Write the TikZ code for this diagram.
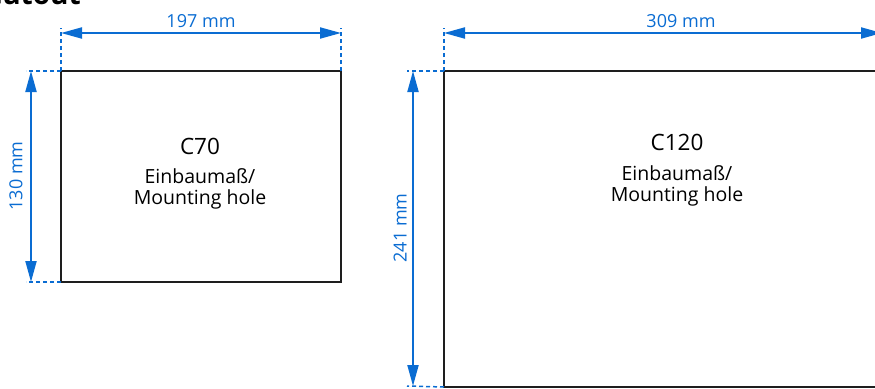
\documentclass[tikz,border=0pt]{standalone}
\usepackage{fontspec}
\setmainfont{Open Sans}
\usetikzlibrary{arrows.meta}
\definecolor{dimblue}{RGB}{10,108,210}
\definecolor{boxline}{RGB}{30,30,30}
\tikzset{
  dimline/.style={dimblue, line width=2pt, {Triangle[length=21pt,width=11pt]}-{Triangle[length=21pt,width=11pt]}, shorten <=0pt, shorten >=0pt},
  extline/.style={dimblue, line width=1.5pt, dash pattern=on 4pt off 3pt},
  cutbox/.style={draw=boxline, line width=2pt},
  dimlabel/.style={text=dimblue, font=\fontsize{18}{21}\selectfont, inner sep=0pt},
  titlelabel/.style={font=\fontsize{22.5}{26}\selectfont, inner sep=0pt, anchor=base},
  textlabel/.style={font=\fontsize{19.5}{22}\selectfont, inner sep=0pt, anchor=base},
  headlabel/.style={font=\bfseries\fontsize{28}{32}\selectfont, inner sep=0pt, anchor=base east}
}
\begin{document}
\begin{tikzpicture}[x=1pt,y=-1pt]
\useasboundingbox (0,0) rectangle (875,388);
% clipped heading
\node[headlabel] (head) at (81,5) {Cutout};
% ---------- left box C70 ----------
\coordinate (aTL) at (61,71);
\coordinate (aBR) at (341,282);
\coordinate (aTR) at (341,71);
\coordinate (aBL) at (61,282);
\draw[cutbox] (aTL) rectangle (aBR);
% extension lines
\coordinate (aTLup) at (61,28);
\coordinate (aTRup) at (341,28);
\coordinate (aTLleft) at (26,71);
\coordinate (aBLleft) at (26,282);
\draw[extline] (aTL) -- (aTLup);
\draw[extline] (aTR) -- (aTRup);
\draw[extline] (aTL) -- (aTLleft);
\draw[extline] (aBL) -- (aBLleft);
% dimensions
\coordinate (aW1) at (61,33);
\coordinate (aW2) at (341,33);
\coordinate (aH1) at (31,71);
\coordinate (aH2) at (31,282);
\draw[dimline] (aW1) -- (aW2);
\draw[dimline] (aH1) -- (aH2);
\node[dimlabel] (aWlab) at (201,21.5) {197 mm};
\node[dimlabel, rotate=90] (aHlab) at (16,176) {130 mm};
% texts
\node[titlelabel] (aTitle) at (200,154) {C70};
\node[textlabel] (aText1) at (200,183) {Einbaumaß/};
\node[textlabel] (aText2) at (200,204) {Mounting hole};
% ---------- right box C120 ----------
\coordinate (bTL) at (444,71);
\coordinate (bBR) at (884,387);
\coordinate (bTR) at (884,71);
\coordinate (bBL) at (444,387);
\draw[cutbox] (bTL) rectangle (bBR);
\coordinate (bTLup) at (444,28);
\coordinate (bTLleft) at (407,71);
\coordinate (bBLleft) at (407,386);
\draw[extline] (bTL) -- (bTLup);
\draw[extline] (bTL) -- (bTLleft);
\draw[extline] (bBL) -- (bBLleft);
\coordinate (bW1) at (444,33);
\coordinate (bW2) at (882,33);
\coordinate (bH1) at (413,71);
\coordinate (bH2) at (413,386);
\draw[dimline] (bW1) -- (bW2);
\draw[dimline] (bH1) -- (bH2);
\node[dimlabel] (bWlab) at (681,21.5) {309 mm};
\node[dimlabel, rotate=90] (bHlab) at (400,228) {241 mm};
\node[titlelabel] (bTitle) at (677,150) {C120};
\node[textlabel] (bText1) at (677,180) {Einbaumaß/};
\node[textlabel] (bText2) at (677,201.5) {Mounting hole};
\end{tikzpicture}
\end{document}
